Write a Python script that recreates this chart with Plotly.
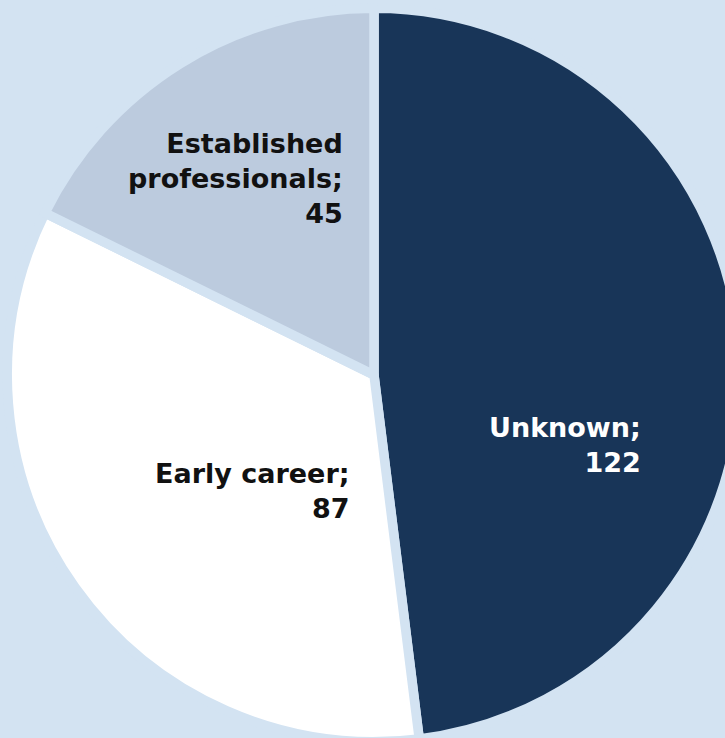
import plotly.graph_objects as go

# ---- data ----
labels = ["Unknown", "Early career", "Established professionals"]
values = [122, 87, 45]
label_lines = ["Unknown;", "Early career;", "Established<br>professionals;"]

# ---- style ----
colors = ["#183558", "#ffffff", "#bccbde"]
text_colors = ["#ffffff", "#111111", "#111111"]
BG = "#d3e3f2"
GAP = 9.5

# canvas (larger than the window; the window shows the top-left 725x738)
W, H = 748, 748
CX, CY, R = 374, 375, 362 + GAP / 2      # pie centre and radius in px

# label anchors (right edge, vertical middle) in px
label_anchor = [(643, 445), (352, 491), (345, 179)]

fig = go.Figure(
    go.Pie(
        labels=labels,
        values=values,
        textinfo="none",
        marker=dict(colors=colors, line=dict(color=BG, width=GAP)),
        sort=False,
        direction="clockwise",
        rotation=0,
        hoverinfo="label+value",
        domain=dict(
            x=[(CX - R) / W, (CX + R) / W],
            y=[1 - (CY + R) / H, 1 - (CY - R) / H],
        ),
        showlegend=False,
    )
)

for lab, val, col, (ax, ay) in zip(label_lines, values, text_colors, label_anchor):
    fig.add_annotation(
        x=ax / W,
        y=1 - ay / H,
        xref="paper",
        yref="paper",
        xanchor="right",
        yanchor="middle",
        align="right",
        showarrow=False,
        text=f"{lab}<br>{val}",
        font=dict(family="DejaVu Sans", size=27, color=col, weight="bold"),
    )

fig.update_layout(
    width=W,
    height=H,
    margin=dict(l=0, r=0, t=0, b=0),
    paper_bgcolor=BG,
    plot_bgcolor=BG,
    showlegend=False,
)

fig.write_html(
    "out.html",
    config={"displayModeBar": False},
    post_script=(
        "document.documentElement.style.overflow='hidden';"
        "document.body.style.margin='0';"
        "document.body.style.overflow='hidden';"
        f"document.body.style.background='{BG}';"
    ),
)
